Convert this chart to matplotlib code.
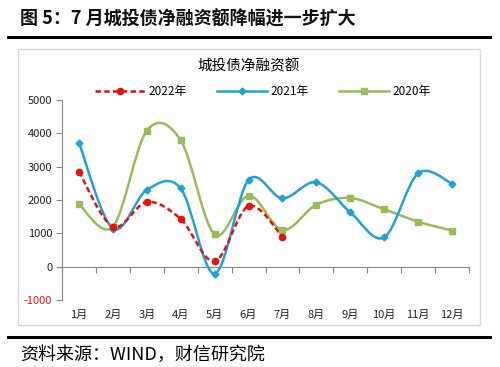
import numpy as np
import matplotlib
matplotlib.use("Agg")
import matplotlib.pyplot as plt
from matplotlib.path import Path
from matplotlib.patches import PathPatch, Rectangle
from matplotlib.lines import Line2D
import matplotlib.transforms as mtransforms

plt.rcParams['font.family'] = ['Noto Sans CJK SC', 'DejaVu Sans']

months = ['1月', '2月', '3月', '4月', '5月', '6月', '7月', '8月', '9月', '10月', '11月', '12月']
y2022 = [2850, 1200, 1940, 1430, 160, 1820, 900]
y2021 = [3720, 1140, 2300, 2350, -210, 2600, 2050, 2530, 1630, 880, 2800, 2490]
y2020 = [1870, 1200, 4080, 3790, 970, 2130, 1100, 1860, 2060, 1720, 1350, 1080]
yticks = [-1000, 0, 1000, 2000, 3000, 4000, 5000]

title = '图 5：7 月城投债净融资额降幅进一步扩大'
chart_title = '城投债净融资额'
source = '资料来源：WIND，财信研究院'


def smooth_path(xs, ys):
    # Excel-style smoothed line: Catmull-Rom segments as cubic Beziers
    pts = np.column_stack([xs, ys]).astype(float)
    n = len(pts)
    verts = [pts[0]]
    codes = [Path.MOVETO]
    for i in range(n - 1):
        p0 = pts[i - 1] if i > 0 else pts[i]
        p1 = pts[i]
        p2 = pts[i + 1]
        p3 = pts[i + 2] if i + 2 < n else pts[i + 1]
        verts += [p1 + (p2 - p0) / 6, p2 - (p3 - p1) / 6, p2]
        codes += [Path.CURVE4] * 3
    return Path(verts, codes)


fig = plt.figure(figsize=(5.0, 3.67), dpi=100)
W, H = 500, 367

# header / footer rules and chart frame
fig.add_artist(Line2D([8 / W, 490 / W], [1 - 37 / H] * 2, color='black', lw=2.2))
fig.add_artist(Line2D([8 / W, 490 / W], [1 - 337 / H] * 2, color='black', lw=2.2))
fig.add_artist(Rectangle((18 / W, 1 - 325 / H), (480 - 18) / W, (325 - 49) / H,
                         transform=fig.transFigure, fill=False, edgecolor='#D9D9D9', lw=1))
fig.text(20 / W, 1 - 19 / H, title, fontsize=13, fontweight='bold', va='center', ha='left',
         color='#111111')
fig.text(20 / W, 1 - 355 / H, source, fontsize=13, va='center', ha='left', style='italic')
fig.text(249 / W, 1 - 66 / H, chart_title, fontsize=10.5, va='center', ha='center')

ax = fig.add_axes([62 / W, 1 - 300 / H, (469 - 62) / W, 200 / H])
ax.set_xlim(0.5, 12.5)
ax.set_ylim(-1000, 5000)

series = [
    (y2022, '2022年', dict(color='#E8100F', lw=1.8, ls=(0, (2.2, 1.3))), dict(marker='o', ms=4.5)),
    (y2021, '2021年', dict(color='#1FA2D8', lw=1.8, ls='-'), dict(marker='D', ms=3.5)),
    (y2020, '2020年', dict(color='#9BBB59', lw=1.8, ls='-'), dict(marker='s', ms=5)),
]
handles = []
for vals, label, lstyle, mstyle in reversed(series):
    x = np.arange(1, len(vals) + 1)
    patch = PathPatch(smooth_path(x, vals), fill=False, edgecolor=lstyle['color'],
                      lw=lstyle['lw'], linestyle=lstyle['ls'], capstyle='butt')
    ax.add_patch(patch)
    ax.plot(x, vals, linestyle='none', color=lstyle['color'], marker=mstyle['marker'],
            ms=mstyle['ms'], mec=lstyle['color'])
for vals, label, lstyle, mstyle in series:
    handles.append(Line2D([], [], color=lstyle['color'], lw=lstyle['lw'], ls=lstyle['ls'],
                          marker=mstyle['marker'], ms=mstyle['ms'], label=label))

fig.legend(handles=handles, loc='center', bbox_to_anchor=(263 / W, 1 - 91.5 / H), ncol=3,
           frameon=False, fontsize=8.5, handlelength=4.2, handletextpad=0.3,
           columnspacing=2.6, borderpad=0)

# axes styling
for s in ['top', 'right']:
    ax.spines[s].set_visible(False)
ax.spines['bottom'].set_position(('data', 0))
ax.spines['bottom'].set_color('#868686')
ax.spines['left'].set_color('#868686')
ax.set_yticks(yticks)
ax.set_yticklabels([str(v) for v in yticks], fontsize=8)
for lab, v in zip(ax.get_yticklabels(), yticks):
    lab.set_color('#E8100F' if v < 0 else '#222222')
ax.tick_params(axis='y', length=4, color='#868686', pad=3)
ax.set_xticks(np.arange(0.5, 13, 1))
ax.set_xticklabels([])
ax.tick_params(axis='x', length=4, color='#868686', direction='out')

trans = mtransforms.blended_transform_factory(ax.transData, ax.transAxes)
for i, m in enumerate(months):
    ax.text(i + 1, -0.075, m, transform=trans, ha='center', va='center', fontsize=8,
            color='#222222')

fig.savefig('out.png', dpi=100)
